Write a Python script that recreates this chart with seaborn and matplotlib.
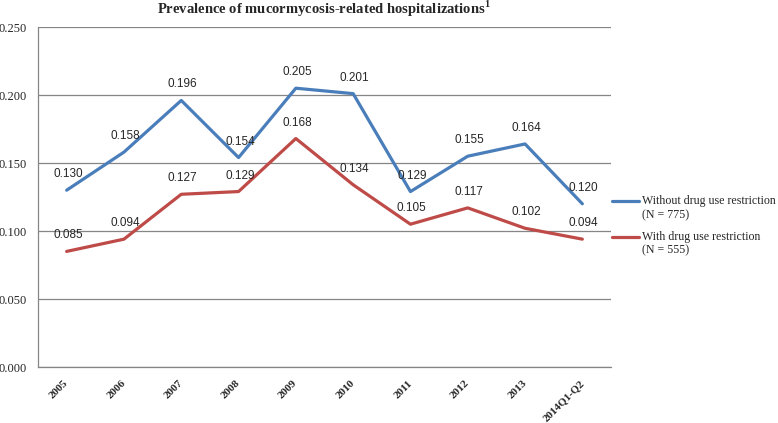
import matplotlib
matplotlib.use("Agg")
import matplotlib.pyplot as plt
import seaborn as sns
import pandas as pd
import numpy as np
from matplotlib.legend_handler import HandlerLine2D

# ---- data ----
periods = ["2005", "2006", "2007", "2008", "2009", "2010", "2011", "2012", "2013", "2014Q1-Q2"]
without_restriction = [0.130, 0.158, 0.196, 0.154, 0.205, 0.201, 0.129, 0.155, 0.164, 0.120]
with_restriction = [0.085, 0.094, 0.127, 0.129, 0.168, 0.134, 0.105, 0.117, 0.102, 0.094]
series_names = ["Without drug use restriction\n(N = 775)", "With drug use restriction\n(N = 555)"]
y_ticks = [0.0, 0.05, 0.10, 0.15, 0.20, 0.25]
title = "Prevalence of mucormycosis-related hospitalizations"

df = pd.DataFrame({
    "period": periods * 2,
    "value": without_restriction + with_restriction,
    "series": [series_names[0]] * len(periods) + [series_names[1]] * len(periods),
})

sns.set_style("white")
plt.rcParams["mathtext.fontset"] = "custom"
plt.rcParams["mathtext.rm"] = "Liberation Serif"
plt.rcParams["mathtext.bf"] = "Liberation Serif:bold"

BLUE = "#4A7EBB"
RED = "#BE4B48"
GRAY = "#868686"

fig = plt.figure(figsize=(7.78, 4.23), dpi=100)
ax = fig.add_axes([38 / 778, 1 - 367 / 423, (611 - 38) / 778, (367 - 27) / 423])

sns.lineplot(data=df, x="period", y="value", hue="series", palette=[BLUE, RED],
             sort=False, linewidth=2.3, ax=ax, legend=True)

ax.set_xlim(-0.5, len(periods) - 0.5)
ax.set_ylim(0, 0.25)
ax.set_yticks(y_ticks)
ax.set_yticklabels([f"{t:.3f}" for t in y_ticks], fontfamily="Liberation Serif", fontsize=9)
ax.yaxis.grid(True, color=GRAY, linewidth=0.9)
ax.set_axisbelow(True)
ax.set_xlabel("")
ax.set_ylabel("")

ax.set_xticks(range(len(periods)))
ax.set_xticklabels(periods, rotation=45, ha="right", va="center", rotation_mode="anchor",
                   fontfamily="Liberation Serif", fontweight="bold", fontsize=8)
ax.set_xticks(np.arange(-0.5, len(periods), 1.0), minor=True)
ax.tick_params(axis="x", which="major", length=0, pad=10.5)
ax.tick_params(axis="x", which="minor", length=3.6, color=GRAY, direction="out", width=0.8)
ax.tick_params(axis="y", length=3.6, color=GRAY, direction="out", width=0.8, pad=4.3)

for s in ["top", "right"]:
    ax.spines[s].set_visible(False)
for s in ["left", "bottom"]:
    ax.spines[s].set_color(GRAY)
    ax.spines[s].set_linewidth(0.9)

for vals in (without_restriction, with_restriction):
    for i, v in enumerate(vals):
        ax.annotate(f"{v:.3f}", (i, v), xytext=(1, 11.5), textcoords="offset points",
                    ha="center", va="center", fontsize=8.5, fontfamily="Liberation Sans")


class FirstLineHandler(HandlerLine2D):
    def create_artists(self, legend, orig_handle, xdescent, ydescent, width, height,
                       fontsize, trans):
        arts = super().create_artists(legend, orig_handle, xdescent, ydescent, width,
                                      height, fontsize, trans)
        shift = fontsize * 0.6
        for a in arts:
            y = np.asarray(a.get_ydata(), dtype=float)
            a.set_ydata(y + shift)
        return arts


handles, labels = ax.get_legend_handles_labels()
ax.get_legend().remove()
leg = fig.legend(handles, labels, loc="center left", bbox_to_anchor=(612 / 778, 1 - 226 / 423),
                 frameon=False, prop={"family": "Liberation Serif", "size": 8.6},
                 handlelength=2.3, handletextpad=0.2, labelspacing=0.8, borderaxespad=0,
                 borderpad=0, handler_map={h: FirstLineHandler() for h in handles})

fig.text(157 / 778, 1 - 9 / 423, title + r"$^{\mathbf{1}}$", ha="left", va="center",
         fontfamily="Liberation Serif", fontweight="bold", fontsize=10.5)

fig.savefig("out.png", dpi=100)
